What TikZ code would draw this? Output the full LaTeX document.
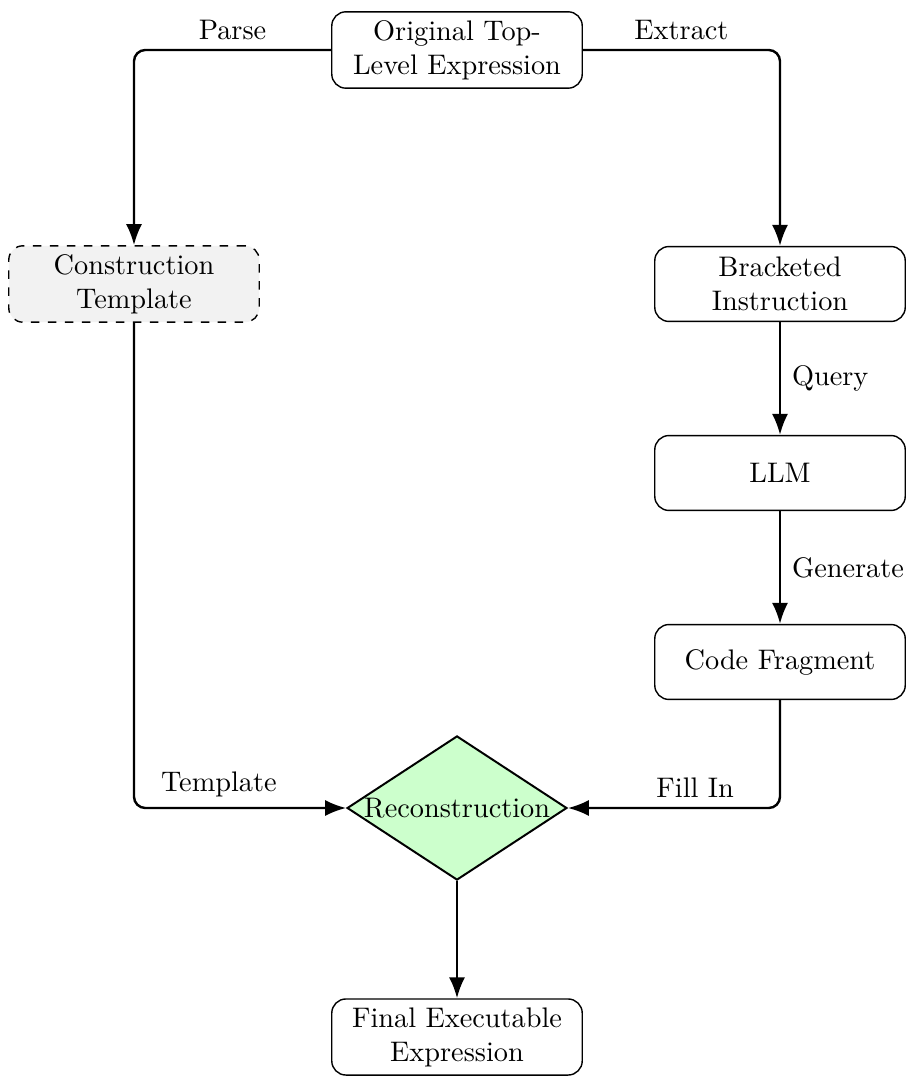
\documentclass[tikz,border=0pt]{standalone}
\usetikzlibrary{shapes.geometric,arrows.meta}
\begin{document}
\begin{tikzpicture}[x=0.01242cm,y=-0.01242cm,
  box/.style={draw, rounded corners=5pt, align=center, minimum width=3.08cm, minimum height=0.93cm, inner sep=3pt, text width=2.9cm, line width=0.5pt},
  conn/.style={-{Latex[length=2.6mm,width=2mm]}, line width=0.85pt, rounded corners=4pt}]
\useasboundingbox (0,0) rectangle (907,1077);
\node[box] (top) at (457,50) {Original Top-\\Level Expression};
\node[box, dashed, fill=gray!10] (ct) at (134,284) {Construction\\Template};
\node[box] (bi) at (780,284) {Bracketed\\Instruction};
\node[box] (llm) at (780,473) {LLM};
\node[box] (cf) at (780,662) {Code Fragment};
\node[draw, diamond, aspect=1.53, inner sep=0pt, fill=green!20, line width=0.7pt, minimum width=2.73cm, minimum height=1.79cm] (rec) at (457,808) {Reconstruction};
\node[box] (fin) at (457,1037) {Final Executable\\Expression};
\draw[conn] (top.west) -| node[pos=0.25, above=0pt] {Parse} (ct.north);
\draw[conn] (top.east) -| node[pos=0.25, above=0pt] {Extract} (bi.north);
\draw[conn] (bi.south) -- node[right=0.5pt] {Query} (llm.north);
\draw[conn] (llm.south) -- node[right=0.5pt] {Generate} (cf.north);
\draw[conn] (ct.south) |- node[pos=0.7, above=0pt] {Template} (rec.west);
\draw[conn] (cf.south) |- node[pos=0.7, above=0pt] {Fill In} (rec.east);
\draw[conn] (rec.south) -- (fin.north);
\end{tikzpicture}
\end{document}
